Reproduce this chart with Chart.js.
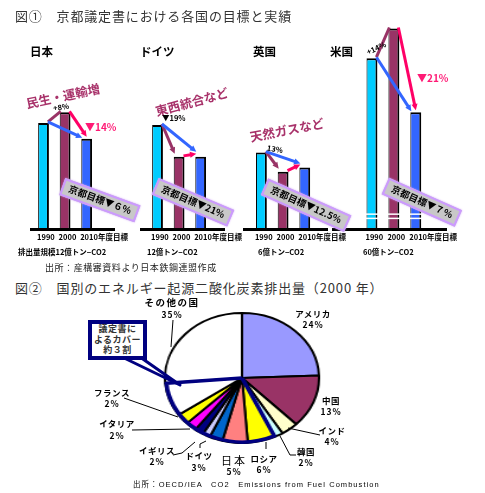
<!DOCTYPE html>
<html><head><meta charset="utf-8">
<script src="https://cdn.jsdelivr.net/npm/chart.js@4"></script>
<style>
html,body{margin:0;padding:0;background:#fff;}
body{width:485px;height:493px;overflow:hidden;position:relative;font-family:"Noto Sans CJK JP","Noto Sans",sans-serif;}
.a{position:absolute;white-space:nowrap;line-height:1;}
.title{font-size:13px;color:#333;letter-spacing:0.85px;}
.cn{font-size:11.5px;font-weight:bold;color:#000;}
.note{font-size:7.5px;font-weight:bold;color:#000;font-family:"Liberation Sans Narrow","Noto Sans CJK JP",sans-serif;}
.rot{font-size:12.5px;font-weight:bold;color:#a8326a;transform:translate(-50%,-50%) rotate(var(--r));}
.sm{font-size:7.5px;font-weight:bold;color:#000;font-family:"Liberation Sans Narrow","Noto Sans CJK JP",sans-serif;}
.pk{font-size:10px;font-weight:bold;color:#ff1a75;font-family:"Liberation Sans Narrow","Noto Sans CJK JP",sans-serif;}
.kbox{font-size:9.5px;font-weight:bold;color:#000;background:#c8c8c8;border:2px solid #cc99ff;box-shadow:0 0 2px #cc99ff;padding:2px 5px;transform:translate(-50%,-50%) rotate(var(--r));}
.pl{font-size:8.5px;font-weight:bold;color:#000;transform:translate(-50%,-50%);letter-spacing:0.5px;}
canvas{position:absolute;}
</style></head><body>
<div id="root"></div>
<script>
// ---------- data ----------
const barYears = ['1990', '2000', '2010年度目標'];
const countryNames = ['日本', 'ドイツ', '英国', '米国'];
const japanValues = [100, 110, 85];
const germanyValues = [98, 68, 68];
const ukValues = [72, 54, 58];
const usValues = [161, 189, 110];
const scaleNotes = ['排出量規模12億トン−CO2', '12億トン−CO2', '6億トン−CO2', '60億トン−CO2'];
const kyotoTargets = ['京都目標▼６%', '京都目標▼21%', '京都目標▼12.5%', '京都目標▼７%'];
const changeNotes = [['+8%', '▼14%'], ['▼19%', ''], ['13%', ''], ['+14%', '▼21%']];
const causeNotes = ['民生・運輸増', '東西統合など', '天然ガスなど', ''];

const pieLabels = ['アメリカ', '中国', 'インド', '韓国', 'ロシア', '日本', 'ドイツ', 'イギリス', 'イタリア', 'フランス', 'カバー内その他1', 'カバー内その他2', 'その他の国'];
const pieValues = [24.4, 13.2, 3.6, 1.8, 5.8, 5.3, 2.8, 1.6, 1.9, 2.3, 2.7, 8.3, 26.3];
const piePercentText = ['24%', '13%', '4%', '2%', '6%', '5%', '3%', '2%', '2%', '2%', '', '', '35%'];

// ---------- styles ----------
const barColors = ['#00ccff', '#993366', '#3366ff'];
const pieColors = ['#9999ff', '#993366', '#ffffcc', '#ccffff', '#ffff00', '#ff8080', '#0066cc', '#ccccff', '#000080', '#ff00ff', '#ffff00', '#ffffff', '#ffffff'];
const PURPLE = '#993366', BLUE = '#3366ff', PINK = '#ff0066';
const Y_MAX = 197;
const root = document.getElementById('root');

function el(cls, txt, css) {
  const d = document.createElement('div');
  d.className = 'a ' + cls;
  d.textContent = txt;
  Object.assign(d.style, css);
  root.appendChild(d);
  return d;
}

function drawArrow(ctx, x1, y1, x2, y2, color, head) {
  const ang = Math.atan2(y2 - y1, x2 - x1);
  const hl = 7;
  ctx.save();
  ctx.strokeStyle = color; ctx.fillStyle = color; ctx.lineWidth = 3; ctx.lineCap = 'butt';
  const ex = head ? x2 - Math.cos(ang) * hl * 0.8 : x2;
  const ey = head ? y2 - Math.sin(ang) * hl * 0.8 : y2;
  ctx.beginPath(); ctx.moveTo(x1, y1); ctx.lineTo(ex, ey); ctx.stroke();
  if (head) {
    ctx.beginPath();
    ctx.moveTo(x2, y2);
    ctx.lineTo(x2 - Math.cos(ang - 0.45) * hl, y2 - Math.sin(ang - 0.45) * hl);
    ctx.lineTo(x2 - Math.cos(ang + 0.45) * hl, y2 - Math.sin(ang + 0.45) * hl);
    ctx.closePath(); ctx.fill();
  }
  ctx.restore();
}

function anchor(bar, pos) {
  const w = bar.width / 2;
  const x = pos === 'r' ? bar.x + w - 1 : pos === 'l' ? bar.x - w + 1 : bar.x;
  return [x, bar.y - 1];
}

const decor = {
  id: 'decor',
  afterDatasetsDraw(chart) {
    const o = chart.options.plugins.decor;
    const ctx = chart.ctx;
    const area = chart.chartArea;
    const bars = chart.getDatasetMeta(0).data;
    if (o.breaks) {
      ctx.save(); ctx.strokeStyle = '#fff'; ctx.lineWidth = 1.5;
      o.breaks.forEach(v => {
        const y = chart.scales.y.getPixelForValue(v);
        bars.forEach(b => { ctx.beginPath(); ctx.moveTo(b.x - b.width / 2 - 1, y); ctx.lineTo(b.x + b.width / 2 + 1, y); ctx.stroke(); });
      });
      ctx.restore();
    }
    ctx.save(); ctx.strokeStyle = '#000'; ctx.lineWidth = 3;
    ctx.beginPath(); ctx.moveTo(o.baseL, area.bottom + 0.5); ctx.lineTo(o.baseR, area.bottom + 0.5); ctx.stroke();
    ctx.restore();
    o.arrows.forEach(a => {
      const [x1, y1] = anchor(bars[a[0]], a[1]);
      const [x2, y2] = anchor(bars[a[2]], a[3]);
      drawArrow(ctx, x1, y1, x2, y2 - (a[5] || 0), a[4], a[6]);
    });
  }
};

function barChart(left, width, values, o) {
  const c = document.createElement('canvas');
  c.width = width; c.height = 250;
  c.style.left = left + 'px'; c.style.top = '0px';
  root.appendChild(c);
  new Chart(c, {
    type: 'bar',
    data: { labels: barYears, datasets: [{ data: values, backgroundColor: barColors, borderColor: '#000',
      borderWidth: { top: 2, right: 2, left: 1, bottom: 0 }, borderSkipped: 'start' }] },
    options: {
      responsive: false, animation: false, events: [],
      layout: { padding: { left: o.padL, right: o.padR, top: 20, bottom: 0 } },
      datasets: { bar: { categoryPercentage: 1, barPercentage: 0.5 } },
      plugins: { legend: { display: false }, tooltip: { enabled: false }, decor: o },
      scales: {
        x: { grid: { display: false, drawTicks: false }, border: { display: false },
          ticks: { padding: 4, color: '#000', maxRotation: 0, minRotation: 0, autoSkip: false, align: 'start', labelOffset: -6.5,
            font: { family: "'Liberation Sans Narrow','Noto Sans CJK JP',sans-serif", size: 7.5, weight: 'bold' } },
          afterFit: s => { s.height = 21; } },
        y: { display: false, min: 0, max: Y_MAX }
      }
    },
    plugins: [decor]
  });
}

barChart(26, 120, japanValues, { padL: 6.75, padR: 45.75, baseL: 4, baseR: 89,
  arrows: [[0, 'r', 1, 'l', PURPLE, 0, false], [0, 'r', 2, 'l', BLUE, 0, true], [1, 'r', 2, 'c', PINK, 1, true]] });
barChart(136, 124, germanyValues, { padL: 10.75, padR: 45.75, baseL: 4, baseR: 89,
  arrows: [[0, 'r', 1, 'l', PURPLE, 2, true], [0, 'r', 2, 'l', BLUE, 4, true], [1, 'r', 2, 'l', PINK, 2, true]] });
barChart(239, 125, ukValues, { padL: 11.6, padR: 45.1, baseL: 4, baseR: 89,
  arrows: [[0, 'r', 1, 'l', PURPLE, 2, true], [0, 'r', 2, 'l', BLUE, 3, true], [1, 'r', 2, 'l', PINK, 2, true]] });
barChart(328, 147, usValues, { padL: 33, padR: 45, baseL: 4, baseR: 119, breaks: [14, 10],
  arrows: [[0, 'r', 1, 'l', PURPLE, 0, false], [0, 'r', 2, 'l', BLUE, 0, true], [1, 'r', 2, 'c', PINK, 1, true]] });

// titles and labels
el('title', '図①　京都議定書における各国の目標と実績', { left: '15px', top: '9px' });
el('title', '図②　国別のエネルギー起源二酸化炭素排出量（2000 年）', { left: '15px', top: '281px' });
[30, 140, 253, 330].forEach((x, i) => el('cn', countryNames[i], { left: x + 'px', top: '46px' }));
[18, 147, 258, 363].forEach((x, i) => el('note', scaleNotes[i], { left: x + 'px', top: '248px' }));
el('', '出所：産構審資料より日本鉄鋼連盟作成', { left: '45px', top: '263px', fontSize: '9px', color: '#222', letterSpacing: '0.55px' });

[[63, 96, -12], [192, 102, -15], [287, 130, -11]].forEach((p, i) => {
  const d = el('rot', causeNotes[i], { left: p[0] + 'px', top: p[1] + 'px' });
  d.style.setProperty('--r', p[2] + 'deg');
});
el('sm', changeNotes[0][0], { left: '53px', top: '103px', transform: 'rotate(-8deg)' });
el('pk', changeNotes[0][1], { left: '85px', top: '122px' });
el('sm', changeNotes[1][0], { left: '162px', top: '114px' });
el('sm', changeNotes[2][0], { left: '267px', top: '145px', transform: 'rotate(10deg)' });
el('sm', changeNotes[3][0], { left: '366px', top: '44px', transform: 'rotate(-25deg)' });
el('pk', changeNotes[3][1], { left: '417px', top: '73px' });
[[100, 200, 20], [193, 202, 23], [306, 205, 24], [422, 202, 24]].forEach((p, i) => {
  const d = el('kbox', kyotoTargets[i], { left: p[0] + 'px', top: p[1] + 'px' });
  d.style.setProperty('--r', p[2] + 'deg');
});

// ---------- pie ----------
const COVER_START = 4, COVER_END = 11;
const coverPlugin = {
  id: 'cover',
  afterDatasetsDraw(chart) {
    const arcs = chart.getDatasetMeta(0).data;
    const a = arcs[COVER_START], b = arcs[COVER_END];
    const ctx = chart.ctx;
    const r = a.outerRadius - 1;
    ctx.save();
    ctx.strokeStyle = '#000080'; ctx.lineWidth = 3.5; ctx.lineJoin = 'round';
    ctx.beginPath();
    ctx.moveTo(a.x, a.y);
    ctx.lineTo(a.x + r * Math.cos(a.startAngle), a.y + r * Math.sin(a.startAngle));
    ctx.arc(a.x, a.y, r, a.startAngle, b.endAngle);
    ctx.lineTo(a.x, a.y);
    ctx.stroke();
    ctx.restore();
  }
};
const wrap = document.createElement('div');
Object.assign(wrap.style, { position: 'absolute', left: '176px', top: '312px', width: '132px', height: '132px',
  transform: 'scaleX(1.185)', transformOrigin: '66px 66px' });
root.appendChild(wrap);
const pc = document.createElement('canvas');
pc.width = 132; pc.height = 132; pc.style.left = '0px'; pc.style.top = '0px';
wrap.appendChild(pc);
new Chart(pc, {
  type: 'pie',
  data: { labels: pieLabels, datasets: [{ data: pieValues, backgroundColor: pieColors, borderColor: '#000', borderWidth: 2, hoverOffset: 0, offset: 0 }] },
  options: { responsive: false, animation: false, events: [], layout: { padding: 0 },
    plugins: { legend: { display: false }, tooltip: { enabled: false } } },
  plugins: [coverPlugin]
});

const svgNS = 'http://www.w3.org/2000/svg';
const svg = document.createElementNS(svgNS, 'svg');
svg.setAttribute('width', '485'); svg.setAttribute('height', '493');
Object.assign(svg.style, { position: 'absolute', left: '0', top: '0' });
const paths = ['M173 320 L171 347', 'M124 398 L178 417', 'M132 430 L190 429', 'M173 455 L182 453 L195 442',
  'M200 448 L200 444 L206 441', 'M266 442 L266 449', 'M280 436 L290 455 L296 455', 'M288 428 L320 435'];
paths.forEach(d => { const p = document.createElementNS(svgNS, 'path'); p.setAttribute('d', d);
  p.setAttribute('stroke', '#000'); p.setAttribute('fill', 'none'); p.setAttribute('stroke-width', '1'); svg.appendChild(p); });
const ptr = document.createElementNS(svgNS, 'path');
ptr.setAttribute('d', 'M122 357 L180 385 L140 357');
ptr.setAttribute('stroke', '#000080'); ptr.setAttribute('stroke-width', '3'); ptr.setAttribute('fill', '#fff'); ptr.setAttribute('stroke-linejoin', 'round');
svg.appendChild(ptr);
root.appendChild(svg);

const box = document.createElement('div');
box.className = 'a';
Object.assign(box.style, { left: '88px', top: '320px', width: '51px', height: '32px', border: '4px solid #000080', background: '#fff',
  fontSize: '9px', fontWeight: 'bold', color: '#333', textAlign: 'center', lineHeight: '10.5px', letterSpacing: '0.5px', padding: '0' });
box.innerHTML = '議定書に<br>よるカバー<br>約３割';
root.appendChild(box);

const pieLabelPos = [[0, 313, 313, 324], [1, 331, 400, 411], [2, 332, 430, 441], [3, 306, 451, 462], [4, 264, 458, 469],
  [5, 234, 460, 471], [6, 199, 455, 467], [7, 157, 450, 461], [8, 117, 423, 435], [9, 112, 392, 403], [12, 172, 303, 314]];
pieLabelPos.forEach(p => {
  const i = p[0];
  const n = el('pl', pieLabels[i], { left: p[1] + 'px', top: p[2] + 'px' });
  if (i === 12) { n.style.fontSize = '9.5px'; n.style.letterSpacing = '1.5px'; }
  if (i === 5) { n.style.fontSize = '11px'; n.style.fontWeight = 'normal'; n.style.letterSpacing = '2px'; }
  el('pl', piePercentText[i], { left: p[1] + 'px', top: p[3] + 'px', letterSpacing: '1px' });
});
el('', '出所：OECD/IEA　CO2　Emissions from Fuel Combustion', { left: '133px', top: '481px', fontSize: '7.5px', color: '#000', letterSpacing: '1.05px', fontFamily: '"Liberation Sans","Noto Sans CJK JP",sans-serif' });
</script>
</body></html>
